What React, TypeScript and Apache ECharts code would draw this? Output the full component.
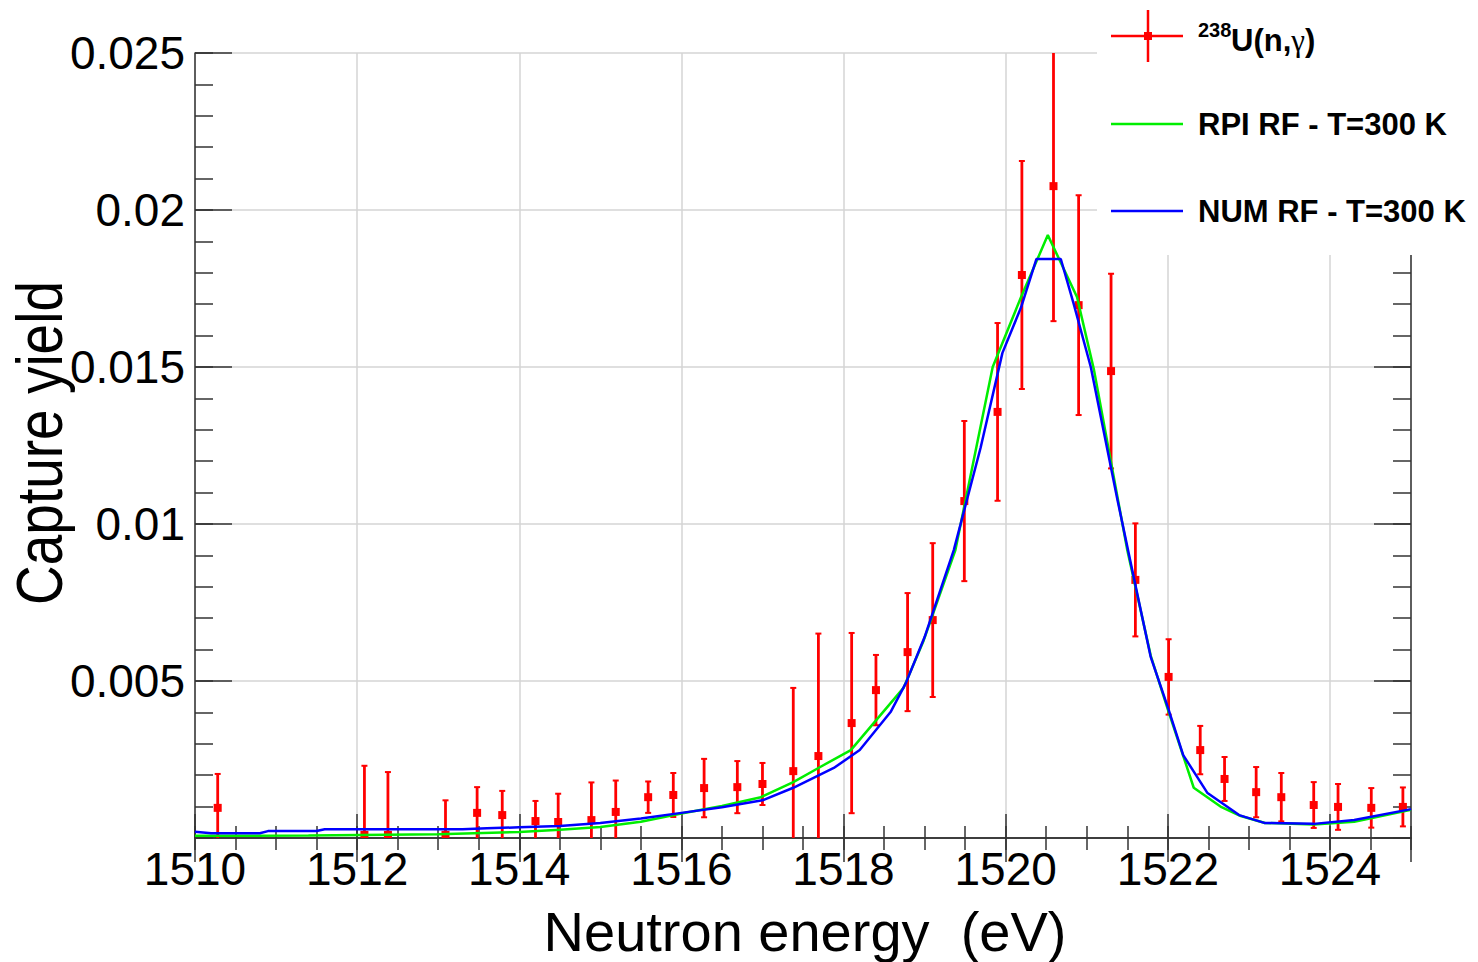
import React, { useEffect, useRef } from "react";
import * as echarts from "echarts";

// Measured data: 238U(n,gamma) capture yield
const energies = [1510.28, 1512.09, 1512.38, 1513.09, 1513.48, 1513.79, 1514.2, 1514.48, 1514.89, 1515.19, 1515.59, 1515.9, 1516.28, 1516.69, 1517.0, 1517.38, 1517.69, 1518.1, 1518.4, 1518.79, 1519.1, 1519.49, 1519.9, 1520.2, 1520.59, 1520.9, 1521.3, 1521.6, 1522.01, 1522.4, 1522.7, 1523.09, 1523.4, 1523.8, 1524.1, 1524.51, 1524.9];
const yields = [0.00096, 0.0001, 0.0001, 0.0001, 0.0008, 0.00073, 0.00054, 0.00051, 0.00057, 0.00083, 0.0013, 0.00137, 0.00159, 0.00162, 0.00172, 0.00213, 0.00261, 0.00366, 0.00471, 0.00592, 0.00694, 0.01073, 0.01357, 0.01793, 0.02076, 0.01697, 0.01487, 0.00822, 0.00513, 0.0028, 0.00188, 0.00146, 0.0013, 0.00105, 0.00099, 0.00096, 0.00099];
const yieldErrors = [0.00108, 0.0022, 0.002, 0.0011, 0.00082, 0.00077, 0.00064, 0.0009, 0.0012, 0.001, 0.0005, 0.0007, 0.00093, 0.00083, 0.00067, 0.00265, 0.0039, 0.00287, 0.00112, 0.00188, 0.00245, 0.00255, 0.00283, 0.00363, 0.0043, 0.0035, 0.0031, 0.0018, 0.0012, 0.00077, 0.0007, 0.0008, 0.00077, 0.00073, 0.00073, 0.00063, 0.00062];

// RPI resolution function, T=300 K
const rpiEnergies = [1510.0, 1511.4, 1513.0, 1514.0, 1514.5, 1515.0, 1515.5, 1516.0, 1516.5, 1516.98, 1517.38, 1517.69, 1518.09, 1518.74, 1518.99, 1519.38, 1519.84, 1520.19, 1520.52, 1520.88, 1521.09, 1521.5, 1521.79, 1522.0, 1522.32, 1522.65, 1522.9, 1523.2, 1523.8, 1524.3, 1525.0];
const rpiYields = [0.00007, 0.00008, 0.00012, 0.00019, 0.00026, 0.00035, 0.00052, 0.00078, 0.00102, 0.0013, 0.00178, 0.00223, 0.0028, 0.00478, 0.0063, 0.00917, 0.015, 0.01723, 0.0192, 0.01723, 0.0149, 0.00917, 0.0058, 0.0041, 0.0016, 0.001, 0.0007, 0.00048, 0.00043, 0.00052, 0.0009];

// Numerical resolution function, T=300 K
const numEnergies = [1510.0, 1510.2, 1510.8, 1510.9, 1511.5, 1511.6, 1513.3, 1513.6, 1514.0, 1514.5, 1515.0, 1515.5, 1516.0, 1516.5, 1517.0, 1517.38, 1517.88, 1518.2, 1518.58, 1518.77, 1519.0, 1519.36, 1519.69, 1519.96, 1520.19, 1520.38, 1520.68, 1520.84, 1521.05, 1521.38, 1521.58, 1521.79, 1522.0, 1522.19, 1522.49, 1522.88, 1523.19, 1523.8, 1524.3, 1525.0];
const numYields = [0.0002, 0.00015, 0.00015, 0.00022, 0.00022, 0.00028, 0.00028, 0.00031, 0.00034, 0.00038, 0.00048, 0.00062, 0.0008, 0.00098, 0.0012, 0.0016, 0.00223, 0.0028, 0.00401, 0.00494, 0.0064, 0.00917, 0.01242, 0.01545, 0.0169, 0.01844, 0.01844, 0.017, 0.015, 0.01076, 0.0083, 0.00576, 0.00417, 0.00264, 0.00143, 0.00073, 0.00048, 0.00045, 0.00057, 0.00092];

const X_MIN = 1510;
const X_MAX = 1525;
const Y_MIN = 0;
const Y_MAX = 0.025;

const legendLabels = ["238", "U(n,", "γ", ")", "RPI RF - T=300 K", "NUM RF - T=300 K"];

const FONT = "'Liberation Sans', Arial, Helvetica, sans-serif";
const AXIS_COLOR = "#333333";
const GRID_COLOR = "#d4d4d4";

export default function App() {
  const ref = useRef<HTMLDivElement>(null);

  useEffect(() => {
    if (!ref.current) return;
    const chart = echarts.init(ref.current, null, { renderer: "svg" });

    const xBase = (position: string, interval: number, major: boolean, bottom: boolean) => ({
      type: "value",
      min: X_MIN,
      max: X_MAX,
      interval,
      position,
      axisLine: { show: major, lineStyle: { color: AXIS_COLOR, width: 1.5 } },
      axisTick: { show: true, inside: true, length: major ? 24 : 12, lineStyle: { color: AXIS_COLOR, width: 1.5 } },
      axisLabel: {
        show: major && bottom,
        margin: 8,
        fontSize: 46,
        fontFamily: FONT,
        color: "#000",
        showMaxLabel: false,
        formatter: (v: number) => String(Math.round(v)),
      },
      splitLine: { show: major && bottom, lineStyle: { color: GRID_COLOR, width: 1.5 } },
      minorTick: { show: false },
    });

    const yBase = (position: string, interval: number, major: boolean, left: boolean) => ({
      type: "value",
      min: Y_MIN,
      max: Y_MAX,
      interval,
      position,
      axisLine: { show: major, lineStyle: { color: AXIS_COLOR, width: 1.5 } },
      axisTick: { show: true, inside: true, length: major ? 37 : 18, lineStyle: { color: AXIS_COLOR, width: 1.5 } },
      axisLabel: {
        show: major && left,
        margin: 10,
        fontSize: 46,
        fontFamily: FONT,
        color: "#000",
        showMinLabel: false,
        formatter: (v: number) => (v === 0 ? "" : String(+v.toFixed(4))),
      },
      splitLine: { show: major && left, lineStyle: { color: GRID_COLOR, width: 1.5 } },
    });

    const pointData = energies.map((e, i) => [e, yields[i], yieldErrors[i]]);

    const option: any = {
      animation: false,
      backgroundColor: "#ffffff",
      grid: { left: 195, top: 53, width: 1216, height: 785, containLabel: false },
      xAxis: [
        xBase("bottom", 2, true, true),
        xBase("bottom", 0.5, false, true),
        xBase("top", 2, true, false),
        xBase("top", 0.5, false, false),
      ],
      yAxis: [
        yBase("left", 0.005, true, true),
        yBase("left", 0.001, false, true),
        yBase("right", 0.005, true, false),
        yBase("right", 0.001, false, false),
      ],
      series: [
        {
          type: "custom",
          name: "238U(n,γ)",
          clip: true,
          data: pointData,
          encode: { x: 0, y: 1 },
          renderItem: (params: any, api: any) => {
            const x = api.value(0);
            const v = api.value(1);
            const e = api.value(2);
            const lo = Math.max(v - e, Y_MIN);
            const hi = Math.min(v + e, Y_MAX);
            const pc = api.coord([x, v]);
            const pl = api.coord([x, lo]);
            const ph = api.coord([x, hi]);
            const red = "#ff0000";
            const children: any[] = [
              {
                type: "line",
                shape: { x1: pc[0], y1: pl[1], x2: pc[0], y2: ph[1] },
                style: { stroke: red, lineWidth: 2.8 },
              },
            ];
            if (v + e <= Y_MAX) {
              children.push({
                type: "line",
                shape: { x1: pc[0] - 3, y1: ph[1], x2: pc[0] + 3, y2: ph[1] },
                style: { stroke: red, lineWidth: 2 },
              });
            }
            if (v - e >= Y_MIN) {
              children.push({
                type: "line",
                shape: { x1: pc[0] - 3, y1: pl[1], x2: pc[0] + 3, y2: pl[1] },
                style: { stroke: red, lineWidth: 2 },
              });
            }
            children.push({
              type: "rect",
              shape: { x: pc[0] - 4, y: pc[1] - 4, width: 8, height: 8 },
              style: { fill: red },
            });
            return { type: "group", children };
          },
        },
        {
          type: "line",
          name: "RPI RF - T=300 K",
          data: rpiEnergies.map((e, i) => [e, rpiYields[i]]),
          showSymbol: false,
          symbol: "none",
          lineStyle: { color: "#00ee00", width: 2.5 },
          z: 3,
        },
        {
          type: "line",
          name: "NUM RF - T=300 K",
          data: numEnergies.map((e, i) => [e, numYields[i]]),
          showSymbol: false,
          symbol: "none",
          lineStyle: { color: "#0000ff", width: 2.5 },
          z: 4,
        },
      ],
      graphic: [
        {
          type: "rect",
          z: 50,
          shape: { x: 1097, y: 0, width: 400, height: 255 },
          style: { fill: "#ffffff" },
        },
        // red legend: error-bar cross with marker
        { type: "line", z: 51, shape: { x1: 1111, y1: 36, x2: 1183, y2: 36 }, style: { stroke: "#ff0000", lineWidth: 2.5 } },
        { type: "line", z: 51, shape: { x1: 1148, y1: 10, x2: 1148, y2: 62 }, style: { stroke: "#ff0000", lineWidth: 2.5 } },
        { type: "rect", z: 51, shape: { x: 1144, y: 32, width: 8, height: 8 }, style: { fill: "#ff0000" } },
        {
          type: "text",
          z: 51,
          x: 1198,
          y: 30,
          style: { text: legendLabels[0], font: `bold 20px ${FONT}`, fill: "#000", textAlign: "left", textVerticalAlign: "middle" },
        },
        {
          type: "text",
          z: 51,
          x: 1231,
          y: 40,
          style: {
            text: `{a|${legendLabels[1]}}{g|${legendLabels[2]}}{a|${legendLabels[3]}}`,
            textAlign: "left",
            textVerticalAlign: "middle",
            fill: "#000",
            rich: {
              a: { font: `bold 31px ${FONT}`, fill: "#000" },
              g: { font: `31px 'Liberation Serif', 'DejaVu Serif', serif`, fill: "#000" },
            },
          },
        },
        // green legend
        { type: "line", z: 51, shape: { x1: 1111, y1: 124, x2: 1183, y2: 124 }, style: { stroke: "#00ee00", lineWidth: 2.5 } },
        {
          type: "text",
          z: 51,
          x: 1198,
          y: 124,
          style: { text: legendLabels[4], font: `bold 31px ${FONT}`, fill: "#000", textAlign: "left", textVerticalAlign: "middle" },
        },
        // blue legend
        { type: "line", z: 51, shape: { x1: 1111, y1: 211, x2: 1183, y2: 211 }, style: { stroke: "#0000ff", lineWidth: 2.5 } },
        {
          type: "text",
          z: 51,
          x: 1198,
          y: 211,
          style: { text: legendLabels[5], font: `bold 31px ${FONT}`, fill: "#000", textAlign: "left", textVerticalAlign: "middle" },
        },
        // axis titles
        {
          type: "text",
          z: 51,
          x: 805,
          y: 931,
          style: { text: "Neutron energy  (eV)", font: `56px ${FONT}`, fill: "#000", textAlign: "center", textVerticalAlign: "middle" },
        },
        {
          type: "text",
          z: 51,
          x: 40,
          y: 443,
          rotation: Math.PI / 2,
          scaleX: 0.846,
          scaleY: 1,
          style: { text: "Capture yield", font: `65px ${FONT}`, fill: "#000", textAlign: "center", textVerticalAlign: "middle" },
        },
      ],
    };

    chart.setOption(option);
    return () => chart.dispose();
  }, []);

  return (
    <div
      ref={ref}
      style={{ position: "absolute", left: 0, top: 0, width: 1478, height: 962, background: "#fff" }}
    />
  );
}
